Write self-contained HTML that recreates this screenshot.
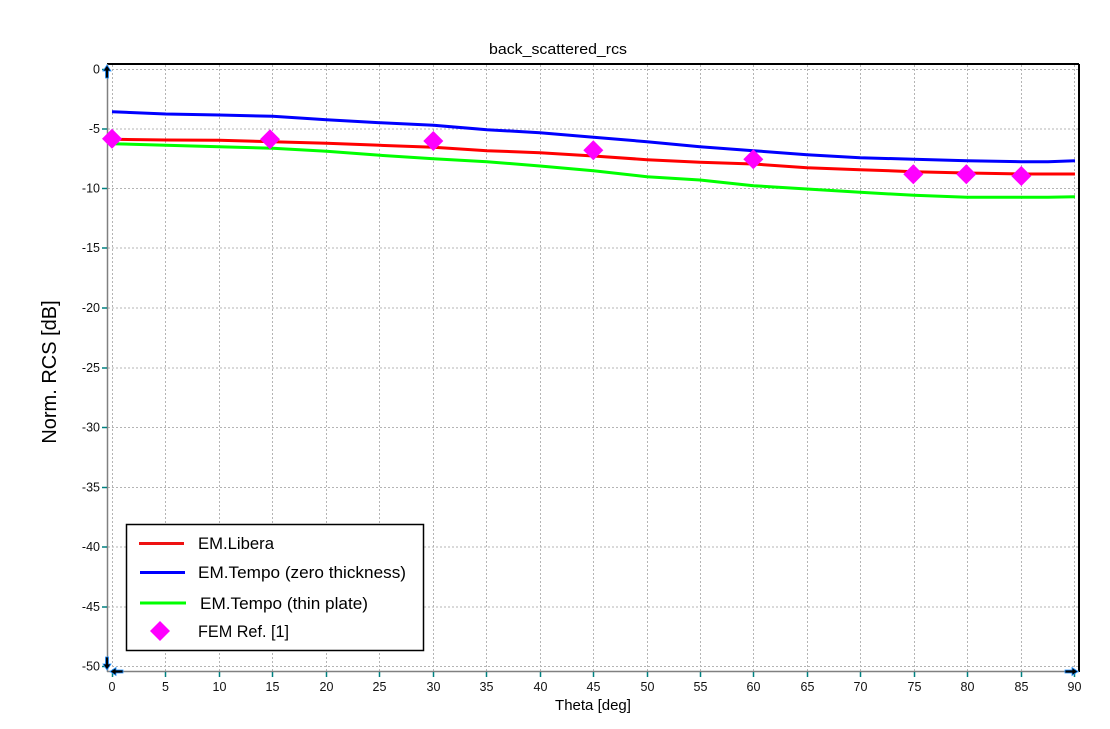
<!DOCTYPE html>
<html><head><meta charset="utf-8"><style>
html,body{margin:0;padding:0;background:#fff;}
svg{display:block;font-family:"Liberation Sans",Arial,sans-serif;}
</style></head><body>
<svg width="1110" height="729" viewBox="0 0 1110 729" xmlns="http://www.w3.org/2000/svg">
<rect width="1110" height="729" fill="#fff"/>
<text x="489" y="54" font-size="15" textLength="138" lengthAdjust="spacingAndGlyphs" fill="#000">back_scattered_rcs</text>
<!-- grid -->
<g stroke="#b4b4b4" stroke-width="1" stroke-dasharray="2,2" fill="none">
<line x1="108" y1="69.5" x2="1078" y2="69.5"/>
<line x1="108" y1="129" x2="1078" y2="129"/>
<line x1="108" y1="188.5" x2="1078" y2="188.5"/>
<line x1="108" y1="248" x2="1078" y2="248"/>
<line x1="108" y1="308" x2="1078" y2="308"/>
<line x1="108" y1="368" x2="1078" y2="368"/>
<line x1="108" y1="427.5" x2="1078" y2="427.5"/>
<line x1="108" y1="487.5" x2="1078" y2="487.5"/>
<line x1="108" y1="547" x2="1078" y2="547"/>
<line x1="108" y1="607" x2="1078" y2="607"/>
<line x1="108" y1="666.5" x2="1078" y2="666.5"/>
<line x1="112.5" y1="65" x2="112.5" y2="671"/>
<line x1="165.5" y1="65" x2="165.5" y2="671"/>
<line x1="219.5" y1="65" x2="219.5" y2="671"/>
<line x1="272.5" y1="65" x2="272.5" y2="671"/>
<line x1="326.5" y1="65" x2="326.5" y2="671"/>
<line x1="379.5" y1="65" x2="379.5" y2="671"/>
<line x1="433.5" y1="65" x2="433.5" y2="671"/>
<line x1="486.5" y1="65" x2="486.5" y2="671"/>
<line x1="540.5" y1="65" x2="540.5" y2="671"/>
<line x1="593.5" y1="65" x2="593.5" y2="671"/>
<line x1="647.5" y1="65" x2="647.5" y2="671"/>
<line x1="700.5" y1="65" x2="700.5" y2="671"/>
<line x1="753.5" y1="65" x2="753.5" y2="671"/>
<line x1="807.5" y1="65" x2="807.5" y2="671"/>
<line x1="860.5" y1="65" x2="860.5" y2="671"/>
<line x1="914.5" y1="65" x2="914.5" y2="671"/>
<line x1="967.5" y1="65" x2="967.5" y2="671"/>
<line x1="1021.5" y1="65" x2="1021.5" y2="671"/>
<line x1="1074.5" y1="65" x2="1074.5" y2="671"/>
</g>
<!-- frame -->
<line x1="107" y1="64" x2="1079" y2="64" stroke="#000" stroke-width="2"/>
<line x1="1079" y1="64" x2="1079" y2="672" stroke="#000" stroke-width="2"/>
<line x1="107.5" y1="64" x2="107.5" y2="672" stroke="#808080" stroke-width="1.5"/>
<line x1="107" y1="671.5" x2="1079" y2="671.5" stroke="#808080" stroke-width="1.5"/>
<!-- y ticks -->
<g stroke="#008080" stroke-width="1.5">
<line x1="102" y1="69.5" x2="107" y2="69.5"/><line x1="102" y1="129" x2="107" y2="129"/>
<line x1="102" y1="188.5" x2="107" y2="188.5"/><line x1="102" y1="248" x2="107" y2="248"/>
<line x1="102" y1="308" x2="107" y2="308"/><line x1="102" y1="368" x2="107" y2="368"/>
<line x1="102" y1="427.5" x2="107" y2="427.5"/><line x1="102" y1="487.5" x2="107" y2="487.5"/>
<line x1="102" y1="547" x2="107" y2="547"/><line x1="102" y1="607" x2="107" y2="607"/>
<line x1="102" y1="666.5" x2="107" y2="666.5"/>
</g>
<g font-size="12.5" fill="#111" text-anchor="end">
<text x="100" y="73.5">0</text><text x="100" y="133">-5</text><text x="100" y="192.5">-10</text>
<text x="100" y="252">-15</text><text x="100" y="312">-20</text><text x="100" y="372">-25</text>
<text x="100" y="431.5">-30</text><text x="100" y="491.5">-35</text><text x="100" y="551">-40</text>
<text x="100" y="611">-45</text><text x="100" y="670.5">-50</text>
</g>
<!-- x ticks -->
<g stroke="#008080" stroke-width="1.5">
<line x1="112.5" y1="672" x2="112.5" y2="677"/><line x1="165.5" y1="672" x2="165.5" y2="677"/>
<line x1="219.5" y1="672" x2="219.5" y2="677"/><line x1="272.5" y1="672" x2="272.5" y2="677"/>
<line x1="326.5" y1="672" x2="326.5" y2="677"/><line x1="379.5" y1="672" x2="379.5" y2="677"/>
<line x1="433.5" y1="672" x2="433.5" y2="677"/><line x1="486.5" y1="672" x2="486.5" y2="677"/>
<line x1="540.5" y1="672" x2="540.5" y2="677"/><line x1="593.5" y1="672" x2="593.5" y2="677"/>
<line x1="647.5" y1="672" x2="647.5" y2="677"/><line x1="700.5" y1="672" x2="700.5" y2="677"/>
<line x1="753.5" y1="672" x2="753.5" y2="677"/><line x1="807.5" y1="672" x2="807.5" y2="677"/>
<line x1="860.5" y1="672" x2="860.5" y2="677"/><line x1="914.5" y1="672" x2="914.5" y2="677"/>
<line x1="967.5" y1="672" x2="967.5" y2="677"/><line x1="1021.5" y1="672" x2="1021.5" y2="677"/>
<line x1="1074.5" y1="672" x2="1074.5" y2="677"/>
</g>
<g font-size="12.5" fill="#111" text-anchor="middle">
<text x="112" y="691">0</text><text x="165.5" y="691">5</text><text x="219.5" y="691">10</text>
<text x="272.5" y="691">15</text><text x="326.5" y="691">20</text><text x="379.5" y="691">25</text>
<text x="433.5" y="691">30</text><text x="486.5" y="691">35</text><text x="540.5" y="691">40</text>
<text x="593.5" y="691">45</text><text x="647.5" y="691">50</text><text x="700.5" y="691">55</text>
<text x="753.5" y="691">60</text><text x="807.5" y="691">65</text><text x="860.5" y="691">70</text>
<text x="914.5" y="691">75</text><text x="967.5" y="691">80</text><text x="1021.5" y="691">85</text>
<text x="1074.5" y="691">90</text>
</g>
<text x="593" y="710" font-size="15" text-anchor="middle" fill="#000">Theta [deg]</text>
<text transform="translate(56,372) rotate(-90)" font-size="20" text-anchor="middle" fill="#000">Norm. RCS [dB]</text>
<!-- series -->
<polyline fill="none" stroke="#0000ff" stroke-width="3" points="112,111.7 165.8,114 219.2,115 272.7,116.3 326.5,119.7 380,122.7 433.5,125.3 487,129.7 540,132.7 593.5,137.3 647,141.7 700,146.7 753.5,150.7 807,154.7 860,157.7 914,159.3 967,160.7 1021,161.7 1048,161.7 1075,160.7"/>
<polyline fill="none" stroke="#ff0000" stroke-width="3" points="112,139.3 165.8,140 219.2,140.3 272.7,141.7 326.5,143.3 380,145.3 433.5,147.3 487,150.7 540,152.7 593.5,156 647,159.7 700,162.3 753.5,164 807,167.7 860,169.7 914,171.7 967,173 1021,174 1075,174"/>
<polyline fill="none" stroke="#00ff00" stroke-width="3" points="112,143.7 165.8,145.3 219.2,146.7 272.7,148.3 326.5,151.3 380,155.3 433.5,158.7 487,161.7 540,166 593.5,170.7 647,176.7 700,180 753.5,185.7 807,189 860,192.3 914,195.3 967,197.3 1021,197.3 1048,197.3 1075,196.7"/>
<!-- markers -->
<g fill="#ff00ff">
<polygon points="112,128.7 122,138.7 112,148.7 102,138.7"/>
<polygon points="270,129.3 280,139.3 270,149.3 260,139.3"/>
<polygon points="433.3,131 443.3,141 433.3,151 423.3,141"/>
<polygon points="593.3,140.3 603.3,150.3 593.3,160.3 583.3,150.3"/>
<polygon points="753.3,149.3 763.3,159.3 753.3,169.3 743.3,159.3"/>
<polygon points="913.3,164.3 923.3,174.3 913.3,184.3 903.3,174.3"/>
<polygon points="966.3,164.3 976.3,174.3 966.3,184.3 956.3,174.3"/>
<polygon points="1021.3,166 1031.3,176 1021.3,186 1011.3,176"/>
</g>
<!-- arrows -->
<g fill="#000" stroke="#1e90ff" stroke-width="0.8">
<polygon points="107,65 111,71 108.5,71 108.5,78 105.5,78 105.5,71 103,71"/>
<polygon points="107,670 111,664 108.5,664 108.5,657 105.5,657 105.5,664 103,664"/>
<polygon points="110,671.5 116,667.5 116,670 123,670 123,673 116,673 116,675.5"/>
<polygon points="1078,671.5 1072,667.5 1072,670 1065,670 1065,673 1072,673 1072,675.5"/>
</g>
<!-- legend -->
<rect x="126.5" y="524.5" width="297" height="126" fill="#fff" stroke="#000" stroke-width="1.5"/>
<line x1="139" y1="543.5" x2="184" y2="543.5" stroke="#ee1111" stroke-width="3"/>
<line x1="140" y1="572.5" x2="185" y2="572.5" stroke="#0000ff" stroke-width="3"/>
<line x1="140" y1="603" x2="186" y2="603" stroke="#00ff00" stroke-width="3"/>
<polygon points="160,621 170,631 160,641 150,631" fill="#ff00ff"/>
<g font-size="17" fill="#000" lengthAdjust="spacingAndGlyphs">
<text x="198" y="549" textLength="76" lengthAdjust="spacingAndGlyphs">EM.Libera</text>
<text x="198" y="578" textLength="208" lengthAdjust="spacingAndGlyphs">EM.Tempo (zero thickness)</text>
<text x="200" y="609" textLength="168" lengthAdjust="spacingAndGlyphs">EM.Tempo (thin plate)</text>
<text x="198" y="637" textLength="91" lengthAdjust="spacingAndGlyphs">FEM Ref. [1]</text>
</g>
</svg>
</body></html>
